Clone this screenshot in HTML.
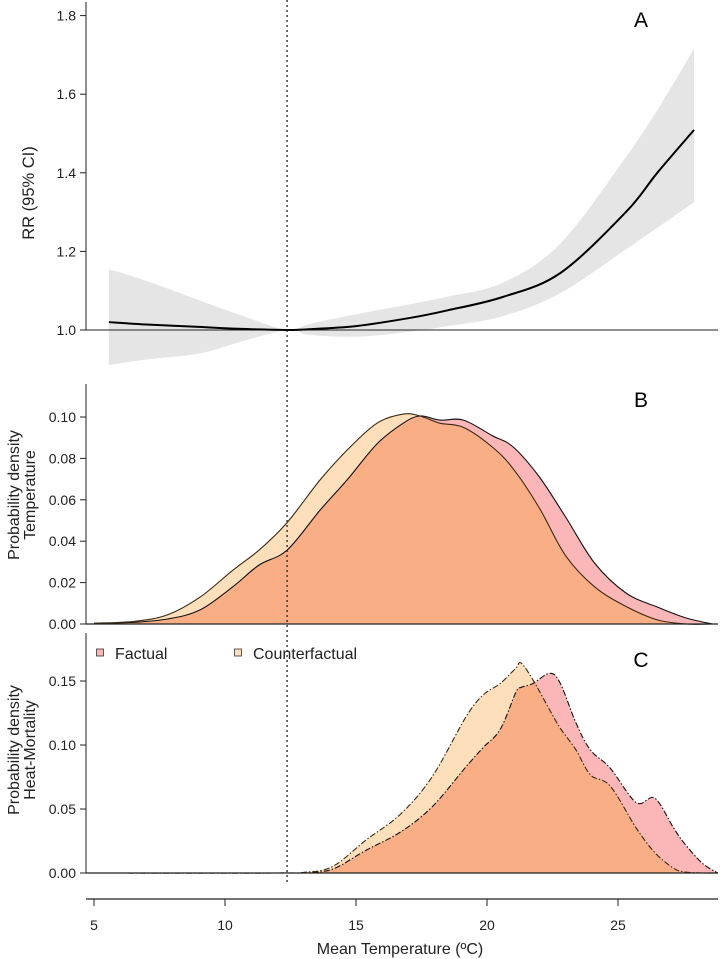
<!DOCTYPE html>
<html><head><meta charset="utf-8"><style>
body{margin:0;background:#fff;}
svg{display:block;font-family:"Liberation Sans",sans-serif;}
</style></head><body>
<svg id="chart" width="720" height="959">
<defs>
<clipPath id="clipB"><path id="clipBpath"/></clipPath>
<clipPath id="clipC"><path id="clipCpath"/></clipPath>
</defs>
<g id="layer"></g>
</svg>
<script>
// Panel A data
const aTemps=[5.57,7,9,10.5,12.37,13.2,15,17,18.5,20.6,22.8,25.3,26.5,27.9];
const aRR=[1.02,1.014,1.008,1.003,1.0,1.002,1.01,1.03,1.05,1.084,1.145,1.3,1.4,1.509];
const aUpper=[1.155,1.125,1.076,1.04,1.0,1.015,1.04,1.065,1.085,1.12,1.22,1.44,1.56,1.715];
const aLower=[0.911,0.925,0.94,0.968,1.0,0.988,0.983,0.995,1.01,1.035,1.094,1.205,1.26,1.325];
const aTicks=[1.0,1.2,1.4,1.6,1.8];
// Panel B data (temperature density)
const bTemps=[5,6.5,7.8,9.05,10.3,11.3,12.37,13.63,14.66,15.8,16.8,17.44,18.2,19.1,20.2,21.0,22.0,23.0,24.1,25.3,26.5,27.6,28.6];
const bFactual=[0.0003,0.0008,0.0024,0.0068,0.018,0.0285,0.0357,0.055,0.0696,0.087,0.097,0.1005,0.0985,0.0985,0.091,0.0855,0.071,0.0517,0.0295,0.015,0.0082,0.0029,0];
const bCounter=[0.0004,0.0012,0.0044,0.013,0.026,0.0357,0.049,0.0696,0.084,0.097,0.1014,0.1005,0.097,0.095,0.0855,0.075,0.056,0.033,0.018,0.0085,0.002,0,0];
const bTicks=[0,0.02,0.04,0.06,0.08,0.10];
// Panel C data (heat-mortality density)
const cTemps=[5,12,13,14.1,15.4,16.7,17.9,19.2,19.85,20.5,21.1,21.3,21.75,22.4,22.8,23.4,23.95,24.7,25.7,26.4,27.1,27.5,28.2,28.8];
const cFactual=[0,0,0.0003,0.003,0.018,0.032,0.0516,0.083,0.098,0.112,0.141,0.145,0.148,0.156,0.148,0.117,0.096,0.082,0.055,0.0585,0.036,0.024,0.008,0];
const cCounter=[0,0,0.0005,0.005,0.026,0.046,0.075,0.122,0.139,0.148,0.16,0.164,0.151,0.127,0.113,0.096,0.0766,0.068,0.035,0.016,0.004,0.001,0,0];
const cTicks=[0,0.05,0.10,0.15];
const xTicks=[5,10,15,20,25];
const refTemp=12.37;

const NS="http://www.w3.org/2000/svg";
const layer=document.getElementById('layer');
const X=t=>94+(t-5)*26.2;
const YA=v=>330-(v-1)*393;
const YB=v=>624-v*2070;
const YC=v=>873-v*1280;
function el(tag,attrs,parent){const e=document.createElementNS(NS,tag);for(const k in attrs)e.setAttribute(k,attrs[k]);(parent||layer).appendChild(e);return e;}
function smooth(pts){let d="M"+pts[0][0].toFixed(1)+","+pts[0][1].toFixed(1);
for(let i=0;i<pts.length-1;i++){const p0=pts[i-1]||pts[i],p1=pts[i],p2=pts[i+1],p3=pts[i+2]||p2;
const c1=[p1[0]+(p2[0]-p0[0])/6,p1[1]+(p2[1]-p0[1])/6],c2=[p2[0]-(p3[0]-p1[0])/6,p2[1]-(p3[1]-p1[1])/6];
d+="C"+c1[0].toFixed(1)+","+c1[1].toFixed(1)+" "+c2[0].toFixed(1)+","+c2[1].toFixed(1)+" "+p2[0].toFixed(1)+","+p2[1].toFixed(1);}return d;}
function text(s,x,y,attrs){const t=el('text',Object.assign({x:x,y:y,'font-size':14,fill:'#222'},attrs||{}));t.textContent=s;return t;}

// ---- Panel A ----
const up=aTemps.map((t,i)=>[X(t),YA(aUpper[i])]);
const lo=aTemps.map((t,i)=>[X(t),YA(aLower[i])]).reverse();
const band=el('path',{d:smooth(up)+"L"+smooth(lo).slice(1)+"Z",fill:'#e5e5e5'});


const base=el('line',{x1:86,x2:718,y1:330,y2:330,stroke:'#222','stroke-width':1});


const rr=el('path',{d:smooth(aTemps.map((t,i)=>[X(t),YA(aRR[i])])),fill:'none',stroke:'#000','stroke-width':2});


el('line',{x1:86,x2:86,y1:2,y2:330,stroke:'#222'});
aTicks.forEach(v=>{el('line',{x1:80,x2:86,y1:YA(v),y2:YA(v),stroke:'#222'});
const t=text(v.toFixed(1),76,YA(v)+5,{'text-anchor':'end'});

});
const ya=text('RR (95% CI)',0,0,{'font-size':16.5,'text-anchor':'middle',transform:'translate(34,193) rotate(-90)'});


const la=text('A',641,27,{'font-size':21,fill:'#000','text-anchor':'middle'});



// ---- density panels ----
function densityPanel(temps,fac,cf,Y,clipId,dash,ticks,dec,top,names){
 const fp=temps.map((t,i)=>[X(t),Y(fac[i])]);
 const cp=temps.map((t,i)=>[X(t),Y(cf[i])]);
 const close=(p)=>smooth(p)+"L"+X(temps[temps.length-1]).toFixed(1)+","+Y(0)+"L"+X(temps[0]).toFixed(1)+","+Y(0)+"Z";
 const f=el('path',{d:close(fp),fill:'#fbb6b7'});
 
 
 const c=el('path',{d:close(cp),fill:'#fde0bb'});
 
 
 document.getElementById(clipId+'path').setAttribute('d',close(cp));
 const o=el('path',{d:close(fp),fill:'#f9ae86','clip-path':'url(#'+clipId+')'});
 
 
 const st={fill:'none','stroke-width':1.1};
 if(dash)st['stroke-dasharray']='6,2,1.5,2';
 const fl=el('path',Object.assign({d:smooth(fp),stroke:'#111'},st));
 
 
 const cl=el('path',Object.assign({d:smooth(cp),stroke:'#3a2a12'},st));
 
 
 el('line',{x1:86,x2:718,y1:Y(0),y2:Y(0),stroke:'#222','stroke-width':1.2});
 el('line',{x1:86,x2:86,y1:top,y2:Y(0),stroke:'#222'});
 ticks.forEach(v=>{el('line',{x1:80,x2:86,y1:Y(v),y2:Y(v),stroke:'#222'});
 const t=text(v.toFixed(dec),76,Y(v)+5,{'text-anchor':'end'});
 
 });
}
densityPanel(bTemps,bFactual,bCounter,YB,'clipB',false,bTicks,2,384,'temperature');
densityPanel(cTemps,cFactual,cCounter,YC,'clipC',true,cTicks,2,633,'mortality');

const lb=text('B',641,407,{'font-size':21,fill:'#000','text-anchor':'middle'});


const lc=text('C',641,667,{'font-size':21,fill:'#000','text-anchor':'middle'});


[['Probability density',19],['Temperature',35]].forEach(a=>{const t=text(a[0],0,0,{'font-size':16,'text-anchor':'middle',transform:'translate('+a[1]+',495) rotate(-90)'});

});
[['Probability density',19],['Heat-Mortality',35]].forEach(a=>{const t=text(a[0],0,0,{'font-size':16,'text-anchor':'middle',transform:'translate('+a[1]+',750) rotate(-90)'});

});

// legend
[['Factual','#fbb6b7',100],['Counterfactual','#fde0bb',238]].forEach(l=>{
 const g=el('g',{});
 
 
 el('rect',{x:l[2]-3.5,y:649,width:7,height:7,fill:l[1],stroke:'#333','stroke-width':0.8},g);
 const t=text(l[0],l[2]+15,659,{'font-size':16,fill:'#222'});g.appendChild(t);});

// reference dashed line
const ref=el('line',{x1:X(refTemp),x2:X(refTemp),y1:0,y2:882,stroke:'#222','stroke-width':1.3,'stroke-dasharray':'2,3'});



// x axis
el('line',{x1:86,x2:718,y1:899,y2:899,stroke:'#222','stroke-width':1.2});
xTicks.forEach(v=>{el('line',{x1:X(v),x2:X(v),y1:899,y2:906,stroke:'#222'});
const t=text(String(v),X(v),930,{'text-anchor':'middle'});

});
const xt=text('Mean Temperature (ºC)',400,954,{'font-size':16,'text-anchor':'middle'});


</script>
</body></html>
